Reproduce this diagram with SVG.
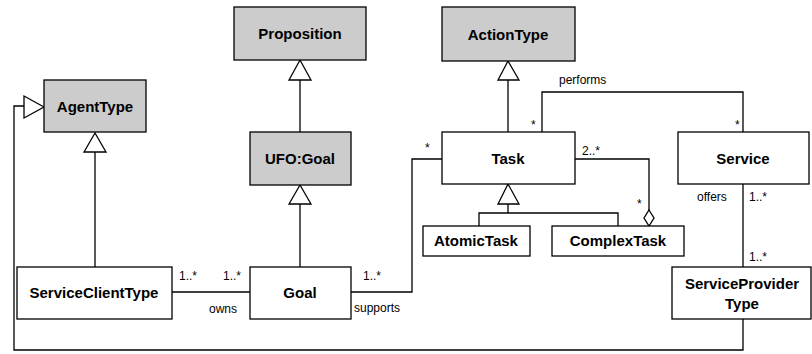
<svg xmlns="http://www.w3.org/2000/svg" width="812" height="354" viewBox="0 0 812 354">
<style>
.n{fill:#fff;stroke:#000;stroke-width:1.3}
.g{fill:#cccccc;stroke:#000;stroke-width:1.3}
.t{font-family:"Liberation Sans",Arial,sans-serif;font-weight:bold;font-size:15px;text-anchor:middle}
.l{font-family:"Liberation Sans",Arial,sans-serif;font-size:12px;fill:#000}
.c{fill:none;stroke:#000;stroke-width:1.3}
.h{fill:#fff;stroke:#000;stroke-width:1.3}
</style>
<rect width="812" height="354" fill="#fff"/>
<g id="connectors">
<path class="c" d="M300 132 V80"/>
<polygon class="h" points="300,60 289,80 311,80"/>
<path class="c" d="M300 267 V204"/>
<polygon class="h" points="300,185 289,204 311,204"/>
<path class="c" d="M95 267 V152"/>
<polygon class="h" points="95,133 84,152 106,152"/>
<path class="c" d="M508 132 V80"/>
<polygon class="h" points="508,61 498,80 519,80"/>
<path class="c" d="M508 204 V213 M479 226 V213 H618 V226"/>
<polygon class="h" points="508,184 498,204 519,204"/>
<path class="c" d="M743 319 V350 H14 V106 H24"/>
<polygon class="h" points="44,107 24,96 24,118"/>
<path class="c" d="M542 132 V92 H743 V132"/>
<path class="c" d="M442 159 H412 V292 H351"/>
<path class="c" d="M172 292 H250"/>
<path class="c" d="M575 159 H649 V210"/>
<polygon class="h" points="649,210 654,218 649,226 644,218"/>
<path class="c" d="M743 184 V267"/>
<text class="l" x="559" y="84">performs</text>
<text class="l" x="531" y="129">*</text>
<text class="l" x="735" y="129">*</text>
<text class="l" x="425" y="152">*</text>
<text class="l" x="582" y="155">2..*</text>
<text class="l" x="637" y="208">*</text>
<text class="l" x="179" y="280">1..*</text>
<text class="l" x="223" y="280">1..*</text>
<text class="l" x="209" y="313">owns</text>
<text class="l" x="363" y="280">1..*</text>
<text class="l" x="354" y="312">supports</text>
<text class="l" x="697" y="201">offers</text>
<text class="l" x="749" y="201">1..*</text>
<text class="l" x="749" y="261">1..*</text>
</g>
<g id="Proposition"><rect class="g" x="234" y="7" width="132" height="53"/><text class="t" x="300" y="39">Proposition</text></g>
<g id="AgentType"><rect class="g" x="44" y="80" width="102" height="52"/><text class="t" x="95" y="112">AgentType</text></g>
<g id="UFOGoal"><rect class="g" x="250" y="132" width="101" height="53"/><text class="t" x="300" y="164">UFO:Goal</text></g>
<g id="ActionType"><rect class="g" x="442" y="7" width="133" height="54"/><text class="t" x="508" y="40">ActionType</text></g>
<g id="Task"><rect class="n" x="442" y="132" width="133" height="52"/><text class="t" x="508" y="164">Task</text></g>
<g id="Service"><rect class="n" x="678" y="132" width="131" height="52"/><text class="t" x="743" y="164">Service</text></g>
<g id="AtomicTask"><rect class="n" x="423" y="226" width="107" height="30"/><text class="t" x="476" y="246">AtomicTask</text></g>
<g id="ComplexTask"><rect class="n" x="552" y="226" width="132" height="30"/><text class="t" x="618" y="246">ComplexTask</text></g>
<g id="ServiceClientType"><rect class="n" x="17" y="267" width="155" height="52"/><text class="t" x="94" y="298">ServiceClientType</text></g>
<g id="Goal"><rect class="n" x="250" y="267" width="101" height="52"/><text class="t" x="300" y="298">Goal</text></g>
<g id="ServiceProviderType"><rect class="n" x="672" y="267" width="139" height="52"/><text class="t" x="742" y="289">ServiceProvider</text><text class="t" x="742" y="309">Type</text></g>
</svg>
